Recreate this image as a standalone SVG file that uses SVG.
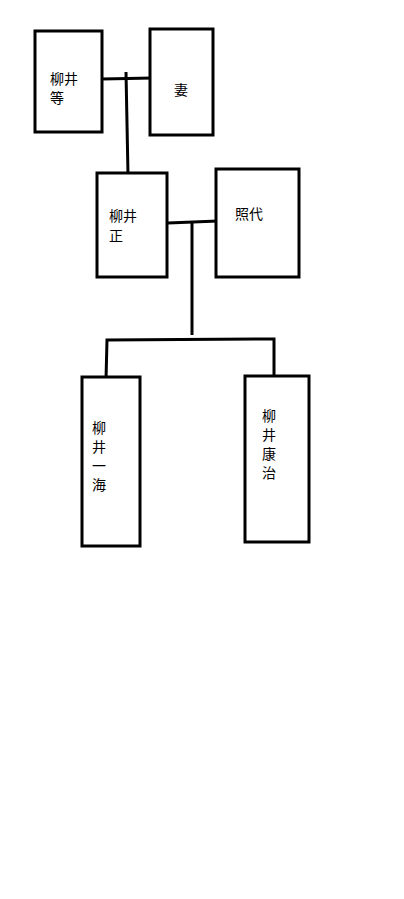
<svg xmlns="http://www.w3.org/2000/svg" width="404" height="899" viewBox="0 0 404 899">
<style>
.box{fill:#fff;stroke:#000;stroke-width:3}
.ln{fill:none;stroke:#000;stroke-width:3}
text{font-family:"Noto Sans CJK JP","Noto Sans CJK SC",sans-serif;font-size:14px;fill:#000}
</style>
<rect x="0" y="0" width="404" height="899" fill="#fff"/>
<g id="connectors">
<path class="ln" d="M102,79 L153,78"/>
<path class="ln" d="M126,72 L128,175"/>
<path class="ln" d="M168,223 L218,221"/>
<path class="ln" d="M192,223 L192,335"/>
<path class="ln" d="M106,380 L107,340 L274,339 L274,377"/>
</g>
<g id="n-hitoshi"><rect class="box" x="35" y="31" width="67" height="101"/><text x="50" y="84">柳井<tspan x="50" dy="19">等</tspan></text></g>
<g id="n-tsuma"><rect class="box" x="150" y="29" width="63" height="106"/><text x="174" y="95">妻</text></g>
<g id="n-tadashi"><rect class="box" x="97" y="173" width="70" height="104"/><text x="109" y="221">柳井<tspan x="109" dy="20">正</tspan></text></g>
<g id="n-teruyo"><rect class="box" x="216" y="169" width="83" height="108"/><text x="235" y="219">照代</text></g>
<g id="n-kazumi"><rect class="box" x="82" y="377" width="58" height="169"/><text x="92" y="433">柳<tspan x="92" dy="19">井</tspan><tspan x="92" dy="19">一</tspan><tspan x="92" dy="19">海</tspan></text></g>
<g id="n-koji"><rect class="box" x="245" y="376" width="64" height="166"/><text x="262" y="421">柳<tspan x="262" dy="19">井</tspan><tspan x="262" dy="19">康</tspan><tspan x="262" dy="19">治</tspan></text></g>
</svg>
